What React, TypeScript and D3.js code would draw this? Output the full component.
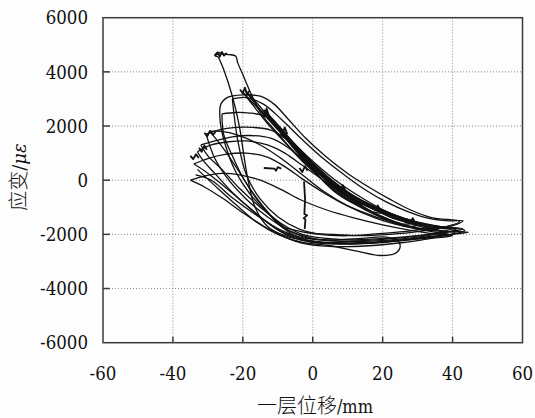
import { scaleLinear, line, curveCatmullRom, curveLinear } from "d3";

type Pt = [number, number];

// axis ticks
const xTicks = [-60, -40, -20, 0, 20, 40, 60];
const yTicks = [-6000, -4000, -2000, 0, 2000, 4000, 6000];

// hysteresis cycles (displacement mm, strain)
// small cycles lying on the main diagonal band
const bb1: Pt[] = [[-8, 1750], [-5, 1250], [-1.5, 700], [2.5, 150], [7, -350], [11, -700], [14, -900], [12, -850], [8, -550], [4, -150], [0, 400], [-4, 1000], [-7.5, 1650]];
const bb2: Pt[] = [[-13.5, 2550], [-10, 2000], [-6, 1400], [-2, 800], [3, 150], [8, -400], [13, -800], [17, -1050], [20, -1200], [18, -1200], [13, -950], [7, -500], [2, 100], [-3, 800], [-7.5, 1500], [-11, 2100], [-13, 2450]];
const bb3: Pt[] = [[-19.5, 3350], [-16, 2850], [-12, 2250], [-8, 1700], [-4, 1150], [1, 450], [6, -150], [12, -700], [18, -1100], [23, -1400], [28, -1600], [26, -1620], [21, -1400], [15, -1050], [9, -550], [3, 100], [-2, 750], [-7, 1450], [-12, 2150], [-16, 2750], [-19, 3250]];
const bb4: Pt[] = [[-20, 3250], [-16, 2700], [-11, 2050], [-6, 1350], [-1, 700], [5, 0], [11, -550], [17, -1000], [23, -1350], [30, -1650], [27, -1700], [21, -1450], [15, -1100], [9, -600], [3, 0], [-3, 700], [-8, 1400], [-13, 2100], [-17, 2750], [-20, 3250]];
const bb5: Pt[] = [[-14, 2600], [-10, 2050], [-6, 1450], [-2, 900], [3, 250], [9, -350], [15, -850], [21, -1200], [27, -1500], [33, -1750], [30, -1780], [24, -1600], [18, -1250], [12, -800], [6, -250], [0, 450], [-5, 1150], [-10, 1900], [-14, 2500]];
const bb6: Pt[] = [[-9, 1900], [-5, 1300], [0, 650], [6, -50], [12, -600], [18, -1050], [24, -1400], [30, -1650], [36, -1800], [32, -1850], [26, -1650], [19, -1300], [13, -850], [7, -300], [2, 300], [-3, 1000], [-9, 1800]];

// large cycles with the lower return band
const loop4: Pt[] = [[-27, 4550], [-28, 4620], [-27, 4720], [-26, 4660], [-24, 4640], [-22, 4580], [-21.5, 4350], [-20, 3900], [-17.5, 3150], [-14.5, 2400], [-10.5, 1800], [-5, 1000], [1, 300], [8, -350], [15, -850], [22, -1250], [30, -1550], [37, -1720], [43.5, -1850], [38, -2050], [28, -2200], [18, -2300], [8, -2350], [-1, -2250], [-8, -2050], [-13, -1700], [-16.5, -1000], [-18.5, 0], [-19.8, 1000], [-21, 2000], [-23, 3100], [-25.5, 4100], [-27, 4550]];
const loop5: Pt[] = [[-8, -1750], [-13, -1200], [-18, -500], [-22, 300], [-25, 1300], [-26.5, 2200], [-26.3, 2800], [-24.5, 3050], [-20, 3150], [-15, 3100], [-11, 2800], [-7, 2250], [-2, 1550], [4, 850], [10, 250], [16, -250], [22, -700], [28, -1100], [34, -1380], [42, -1520], [38, -1720], [30, -1900], [22, -2000], [14, -2050], [6, -2000], [-1, -1950], [-8, -1750]];
const loop6: Pt[] = [[-30.5, 1700], [-27, 1850], [-22, 1950], [-17, 1950], [-12, 1850], [-8, 1550], [-3, 900], [3, 200], [10, -450], [18, -1000], [26, -1400], [34, -1680], [40.5, -1760], [35, -1950], [27, -2100], [18, -2200], [8, -2250], [0, -2150], [-7, -1850], [-13, -1350], [-19, -700], [-24, 0], [-28, 800], [-30.5, 1700]];
const loop7: Pt[] = [[-33, 1050], [-29, 1300], [-24, 1420], [-19, 1450], [-13, 1300], [-8, 1000], [-3, 550], [3, 0], [10, -600], [17, -1050], [24, -1450], [32, -1750], [38, -1880], [44.5, -1920], [38, -2020], [30, -2150], [20, -2300], [10, -2350], [0, -2300], [-6, -2100], [-11, -1750], [-17, -1150], [-23, -450], [-28, 250], [-31.5, 750], [-33, 1050]];
const loop8: Pt[] = [[-35, 0], [-31, 150], [-26, 250], [-21, 200], [-15, 0], [-9, -350], [-3, -750], [4, -1100], [12, -1400], [20, -1650], [28, -1850], [35, -1980], [40, -2050], [34, -2150], [26, -2300], [16, -2420], [6, -2450], [-2, -2350], [-8, -2100], [-14, -1700], [-20, -1200], [-26, -650], [-31, -250], [-35, 0]];
const loop9: Pt[] = [[-33, 400], [-28, -200], [-22, -900], [-16, -1550], [-10, -2000], [-3, -2300], [5, -2420], [12.7, -2620], [19.3, -2780], [23.6, -2700], [25, -2460], [24.4, -2240], [21, -2100], [14, -2150], [6, -2200], [-2, -2150], [-9, -1850], [-16, -1300], [-23, -650], [-29, 0], [-33.5, 200]];
const loop10: Pt[] = [[-26, 2450], [-22, 2500], [-18, 2480], [-14.5, 2400], [-11, 2150], [-6, 1450], [0, 700], [7, -50], [14, -650], [21, -1150], [28, -1500], [35, -1750], [41, -1830], [36, -1980], [27, -2150], [17, -2250], [7, -2250], [-1, -2150], [-7, -1850], [-12, -1300], [-16, -700], [-20, 100], [-23, 900], [-25.5, 1700], [-26, 2450]];
const loop11: Pt[] = [[-32, 1300], [-28, 1450], [-23, 1600], [-18, 1650], [-12, 1550], [-7, 1200], [-2, 650], [4, 0], [11, -550], [19, -1050], [27, -1450], [35, -1700], [43, -1800], [38, -1920], [30, -2050], [21, -2150], [12, -2200], [4, -2150], [-3, -2000], [-9, -1600], [-15, -1000], [-21, -300], [-26, 400], [-30, 900], [-32, 1300]];
const loop12: Pt[] = [[-23, 3000], [-19, 3050], [-14, 2800], [-9, 2250], [-3, 1500], [3, 800], [9, 200], [15, -350], [21, -800], [27, -1150], [33, -1400], [39, -1500], [43, -1500], [40, -1680], [33, -1780], [26, -1900], [18, -1980], [10, -2050], [2, -2000], [-4, -1800], [-10, -1350], [-15, -700], [-19, 200], [-21.5, 1500], [-23, 3000]];
const loop13: Pt[] = [[-34, 600], [-30, 800], [-25, 950], [-19, 1000], [-13, 850], [-8, 500], [-3, 50], [3, -450], [10, -950], [18, -1350], [26, -1650], [34, -1850], [41, -1950], [35, -2080], [26, -2200], [16, -2300], [6, -2300], [-2, -2200], [-9, -1900], [-15, -1350], [-21, -700], [-27, -50], [-31, 350], [-34, 600]];
const loop14: Pt[] = [[-29.5, 1800], [-26, 1250], [-22, 500], [-18, -300], [-14, -1000], [-10, -1600], [-5, -2050], [2, -2300], [12, -2350], [22, -2250], [32, -2100], [39, -2000], [34, -1900], [26, -1700], [18, -1400], [10, -950], [3, -400], [-3, 200], [-9, 800], [-15, 1300], [-21, 1650], [-26, 1800], [-29.5, 1800]];

const loops = [bb1, bb2, bb3, bb4, bb5, bb6, loop4, loop5, loop6, loop7, loop8, loop9, loop10, loop11, loop12, loop13, loop14];

// small jitter marks where the record paused
const markPeak: Pt[] = [[-28, 4580], [-27.2, 4720], [-26.6, 4560], [-26, 4740], [-25.4, 4600], [-24.6, 4700]];
const markB: Pt[] = [[-20.8, 3350], [-20, 3200], [-19.4, 3420], [-18.8, 3150], [-18.2, 3300]];
const markC: Pt[] = [[-14.5, 2550], [-13.8, 2350], [-13.2, 2650], [-12.6, 2400]];
const markD: Pt[] = [[-9.5, 1850], [-8.8, 1650], [-8, 1950], [-7.3, 1700]];
const markE: Pt[] = [[-31, 1750], [-30.2, 1620], [-29.4, 1820], [-28.5, 1680], [-27.8, 1780]];
const markF: Pt[] = [[-32.5, 1200], [-31.8, 1050], [-31, 1280], [-30.3, 1120]];
const markG: Pt[] = [[-35, 900], [-34.2, 780], [-33.4, 960], [-32.6, 820]];
const markH: Pt[] = [[-3.8, 450], [-3, 300], [-2.2, 520], [-1.5, 350]];
const markI: Pt[] = [[7, -200], [7.8, -380], [8.6, -180], [9.4, -400]];
const markJ: Pt[] = [[17, -950], [17.8, -1120], [18.6, -930], [19.4, -1150]];
const markK: Pt[] = [[27, -1420], [27.8, -1580], [28.6, -1400], [29.4, -1600]];
const markL: Pt[] = [[33, -1720], [33.8, -1870], [34.6, -1700], [35.4, -1880]];
const markV: Pt[] = [[-2.5, -50], [-2.2, -700], [-2.4, -1250], [-1.6, -1300], [-2.6, -1400], [-2.1, -1450], [-2.3, -1800]];
const markDash: Pt[] = [[-14, 450], [-11, 430], [-10.5, 350], [-10, 480], [-9, 430]];
const marks = [markPeak, markB, markC, markD, markE, markF, markG, markH, markI, markJ, markK, markL, markV, markDash];

const serifCond = "'DejaVu Serif Condensed', 'DejaVu Serif'";
const serif = "'DejaVu Serif'";
const cjk = "'Noto Sans CJK SC'";

export default function App() {
  const x = scaleLinear().domain([-60, 60]).range([103, 522.5]);
  const y = scaleLinear().domain([-6000, 6000]).range([342.7, 17.7]);

  const smooth = line<Pt>()
    .x((d) => x(d[0]))
    .y((d) => y(d[1]))
    .curve(curveCatmullRom.alpha(0.5));
  const straight = line<Pt>()
    .x((d) => x(d[0]))
    .y((d) => y(d[1]))
    .curve(curveLinear);

  const [x0, x1] = x.range();
  const [y0, y1] = y.range();

  return (
    <svg
      width={535}
      height={418}
      style={{ position: "absolute", left: 0, top: 0, display: "block", background: "#fdfdfd" }}
    >
      {/* grid */}
      <g stroke="#8a8a8a" strokeWidth={1} strokeDasharray="1,2">
        {xTicks.slice(1, -1).map((t) => (
          <line key={"gx" + t} x1={x(t)} x2={x(t)} y1={y1} y2={y0} />
        ))}
        {yTicks.slice(1, -1).map((t) => (
          <line key={"gy" + t} x1={x0} x2={x1} y1={y(t)} y2={y(t)} />
        ))}
      </g>

      {/* curves */}
      <g fill="none" stroke="#111" strokeWidth={1.3} strokeLinejoin="round">
        {loops.map((l, i) => (
          <path key={"l" + i} d={smooth(l) || ""} />
        ))}
        {marks.map((m, i) => (
          <path key={"m" + i} d={straight(m) || ""} strokeWidth={1.8} />
        ))}
      </g>

      {/* frame + ticks */}
      <g stroke="#3a3a3a" strokeWidth={1.5} fill="none">
        <rect x={x0} y={y1} width={x1 - x0} height={y0 - y1} />
        {yTicks.slice(1, -1).map((t) => (
          <line key={"ty" + t} x1={x0} x2={x0 + 7} y1={y(t)} y2={y(t)} />
        ))}
        {xTicks.slice(1, -1).map((t) => (
          <line key={"tx" + t} x1={x(t)} x2={x(t)} y1={y0} y2={y0 - 6} />
        ))}
      </g>

      {/* tick labels */}
      {yTicks.map((t) => (
        <text key={"ly" + t} x={88} y={y(t)} dy="0.36em" textAnchor="end" fontFamily={serifCond} fontSize={18.5} fill="#111">
          {t}
        </text>
      ))}
      {xTicks.map((t) => (
        <text key={"lx" + t} x={x(t)} y={380} textAnchor="middle" fontFamily={serifCond} fontSize={18.5} fill="#111">
          {t}
        </text>
      ))}

      {/* axis titles */}
      <text x={315} y={413} textAnchor="middle" fontSize={20} fill="#111">
        <tspan fontFamily={cjk} fontWeight={300}>一层位移</tspan>
        <tspan fontFamily={serifCond} fontSize={18}>/mm</tspan>
      </text>
      <text transform="translate(26,177) rotate(-90)" textAnchor="middle" fontSize={20} fill="#111">
        <tspan fontFamily={cjk} fontWeight={300}>应变</tspan>
        <tspan fontFamily={serif} fontSize={18}>/</tspan>
        <tspan fontFamily={serif} fontSize={18} fontStyle="italic">με</tspan>
      </text>
    </svg>
  );
}
